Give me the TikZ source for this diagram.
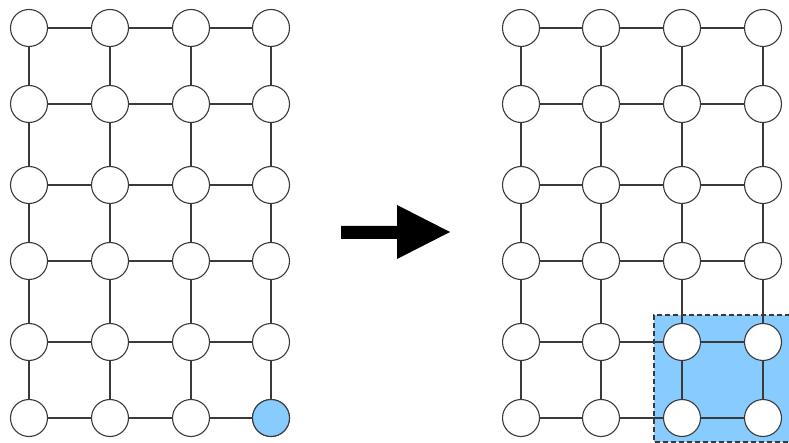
\documentclass[tikz,border=0pt]{standalone}
\usepackage{tikz}
\definecolor{nodeblue}{HTML}{88CBFE}
\definecolor{edgegray}{HTML}{3A3A3A}
\begin{document}
\begin{tikzpicture}[x=1pt,y=-1pt,
  vtx/.style={circle,draw=edgegray,line width=1.1pt,fill=white,minimum size=37pt,inner sep=0pt},
  hit/.style={vtx,fill=nodeblue},
  edge/.style={draw=edgegray,line width=1.1pt},
  box/.style={fill=nodeblue,draw=edgegray,line width=1.1pt,dash pattern=on 5pt off 3pt}]
\useasboundingbox (0,0) rectangle (789,443);
\def\rowsY{{28,104,185,261,342,418}}
\def\colsL{{29,110,191,271}}
\def\colsR{{521,601,682,763}}
% highlight box
\fill[nodeblue] (654,315) rectangle (790,442);
\draw[box,fill=none] (790,315) -- (654,315) -- (654,442) -- (790,442);
% nodes
\foreach \r in {0,...,5}{
  \foreach \c in {0,...,3}{
    \pgfmathsetmacro\yy{\rowsY[\r]}
    \pgfmathsetmacro\xl{\colsL[\c]}
    \pgfmathsetmacro\xr{\colsR[\c]}
    \coordinate (L-\r-\c) at (\xl,\yy);
    \coordinate (R-\r-\c) at (\xr,\yy);
  }
}
% edges
\foreach \s in {L,R}{
  \foreach \r in {0,...,5}{
    \foreach \c/\n in {0/1,1/2,2/3}{
      \draw[edge] (\s-\r-\c) -- (\s-\r-\n);
    }
  }
  \foreach \r/\n in {0/1,1/2,2/3,3/4,4/5}{
    \foreach \c in {0,...,3}{
      \draw[edge] (\s-\r-\c) -- (\s-\n-\c);
    }
  }
}
\foreach \s in {L,R}{
  \foreach \r in {0,...,5}{
    \foreach \c in {0,...,3}{
      \node[vtx] (n-\s-\r-\c) at (\s-\r-\c) {};
    }
  }
}
\node[hit] (hitnode) at (L-5-3) {};
% arrow
\fill[black] (341,226) -- (397,226) -- (397,205) -- (450,232) -- (397,259) -- (397,239) -- (341,239) -- cycle;
\end{tikzpicture}
\end{document}
